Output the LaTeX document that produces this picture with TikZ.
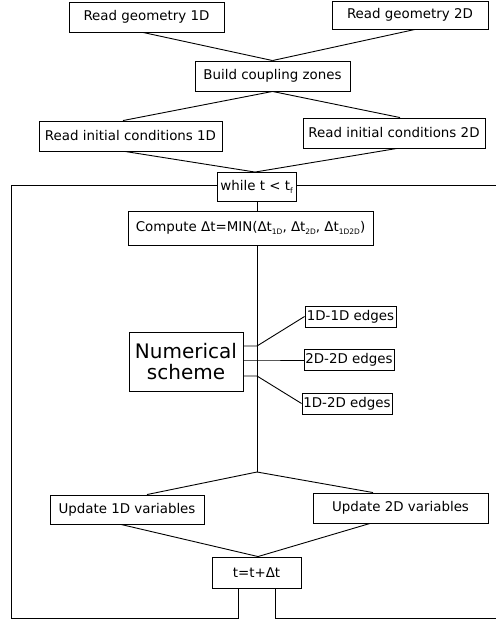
\documentclass[tikz,border=0pt]{standalone}
\usepackage{fontspec}
\setmainfont{DejaVu Sans}
\usetikzlibrary{calc}
\newcommand{\mysub}[1]{\raisebox{-0.35ex}{\fontsize{7.5}{8}\selectfont #1}}
\begin{document}
\begin{tikzpicture}[x=1pt,y=-1pt,
  box/.style={draw,line width=0.9pt,inner sep=0pt,align=center,font=\fontsize{13.4}{15}\selectfont},
  conn/.style={line width=0.9pt}]
\useasboundingbox (0,0) rectangle (496,626);
% nodes
\node[box,minimum width=155,minimum height=30] (g1) at (146.5,17) {Read geometry 1D};
\node[box,minimum width=156,minimum height=28] (g2) at (410,15) {Read geometry 2D};
\node[box,minimum width=155,minimum height=30] (bcz) at (272.5,76) {Build coupling zones};
\node[box,minimum width=183,minimum height=30] (ic1) at (130.5,136) {Read initial conditions 1D};
\node[box,minimum width=182,minimum height=30] (ic2) at (394,133) {Read initial conditions 2D};
\node[box,minimum width=79,minimum height=29] (wh) at (256.5,187) {while t < t\mysub{f}};
\node[box,minimum width=245,minimum height=34] (cp) at (250.5,228) {Compute Δt=MIN(Δt\mysub{1D}, Δt\mysub{2D}, Δt\mysub{1D2D})};
\node[box,minimum width=114,minimum height=59,font=\fontsize{20}{21}\selectfont] (ns) at (186,361.5) {Numerical\\scheme};
\node[box,minimum width=91,minimum height=21] (e1) at (350.5,316.5) {1D-1D edges};
\node[box,minimum width=90,minimum height=21] (e2) at (349,359.5) {2D-2D edges};
\node[box,minimum width=90,minimum height=21] (e3) at (347,403.5) {1D-2D edges};
\node[box,minimum width=154,minimum height=29] (u1) at (127,509.5) {Update 1D variables};
\node[box,minimum width=175,minimum height=30] (u2) at (400.5,508) {Update 2D variables};
\node[box,minimum width=89,minimum height=31] (tt) at (256.5,572.5) {t=t+Δt};
% coordinates
\coordinate (fork) at (257,472);
\coordinate (s1) at (257,346);
\coordinate (s2) at (257,360);
\coordinate (s3) at (257,376);
\coordinate (lt) at (11,185);
\coordinate (lb) at (11,618);
\coordinate (rt) at (496,185);
\coordinate (rb) at (496,618);
% connectors
\draw[conn] ([xshift=-3.5]g1.south) -- (bcz.north);
\draw[conn] ([xshift=5]g2.south) -- (bcz.north);
\draw[conn] (bcz.south) -- ([xshift=-7.5]ic1.north);
\draw[conn] (bcz.south) -- ([xshift=6]ic2.north);
\draw[conn] ([xshift=-5.5]ic1.south) -- ([xshift=-1.5]wh.north);
\draw[conn] ([xshift=3]ic2.south) -- ([xshift=-1.5]wh.north);
\draw[conn] ([xshift=0.5]wh.south) -- ([xshift=6.5]cp.north);
\draw[conn] ([xshift=6.5]cp.south) -- (fork);
\draw[conn] (ns.east |- s1) -- (s1) -- (e1.west);
\draw[conn] (ns.east |- s2) -- (s2) -- (e2.west |- s2);
\draw[conn] (ns.east |- s3) -- (s3) -- (e3.west);
\draw[conn] (fork) -- ([xshift=20]u1.north);
\draw[conn] (fork) -- ([xshift=-27.5]u2.north);
\draw[conn] ([xshift=-6]u1.south) -- ([xshift=1.5]tt.north);
\draw[conn] ([xshift=-30.5]u2.south) -- ([xshift=1.5]tt.north);
\draw[conn] (wh.west |- lt) -- (lt) -- (lb) -- ([xshift=-18.5]tt.south |- lb) -- ([xshift=-18.5]tt.south);
\draw[conn] (wh.east |- rt) -- (rt);
\draw[conn] ([xshift=18.5]tt.south) -- ([xshift=18.5]tt.south |- rb) -- (rb);
\end{tikzpicture}
\end{document}
